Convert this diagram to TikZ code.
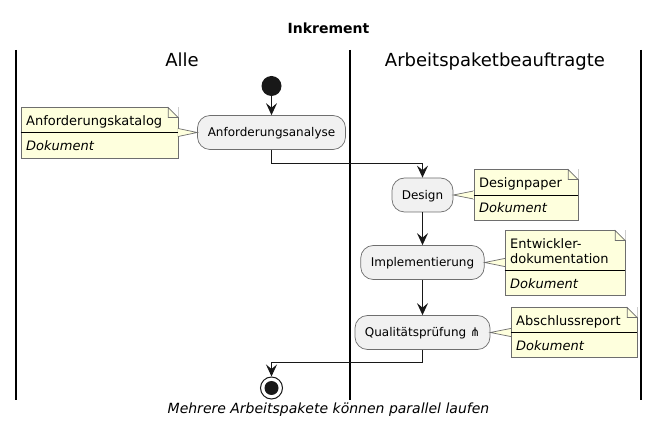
\documentclass[tikz,border=0pt]{standalone}
\usepackage{fontspec}
\setmainfont{DejaVu Sans}
\usetikzlibrary{arrows.meta,calc}
\definecolor{notefill}{HTML}{FEFFDD}
\definecolor{actfill}{HTML}{F1F1F1}
\definecolor{ink}{HTML}{181818}
\definecolor{edge}{HTML}{6E6E6E}
\tikzset{
	activity/.style={draw=edge, line width=0.7pt, fill=actfill, rounded corners=12.5pt, inner sep=0pt, minimum height=34pt, text height=11pt, text depth=2pt, font=\fontsize{12}{14}\selectfont},
	notebody/.style={draw=edge, line width=0.7pt, fill=notefill, inner sep=0pt},
	notetext/.style={inner sep=0pt, align=left, font=\fontsize{13}{15}\selectfont},
	flow/.style={draw=ink, line width=1.2pt, -{Stealth[length=12pt, width=11pt, inset=4.5pt]}},
	lane/.style={draw=black, line width=2pt},
	lanetitle/.style={inner sep=0pt, anchor=base, font=\fontsize{18}{22}\selectfont},
}
% name, x, y, width, height, divider offset, head text, activity anchor, note side
\newcommand{\notebox}[9]{
	\node[notebody, anchor=north west, minimum width=#4pt, minimum height=#5pt] (#1) at (#2, #3) {};
	\draw[draw=edge, line width=0.7pt, fill=notefill] (#8) -- ($(#8 -| #1.#9)+(0,-4)$) -- ($(#8 -| #1.#9)+(0,4)$) -- cycle;
	\draw[notefill, line width=1pt] ($(#8 -| #1.#9)+(0,-3.6)$) -- ($(#8 -| #1.#9)+(0,3.6)$);
	\fill[white] ($(#1.north east)+(-10,-0.5)$) -- ($(#1.north east)+(0.5,-0.5)$) -- ($(#1.north east)+(0.5,10)$) -- cycle;
	\draw[draw=edge, line width=0.7pt] ($(#1.north east)+(-10,0)$) -- ($(#1.north east)+(0,10)$) -- ($(#1.north east)+(-10,10)$) -- cycle;
	\draw[draw=black, line width=0.9pt] ($(#1.north west)+(0,#6)$) -- ($(#1.north east)+(0,#6)$);
	\node[notetext, anchor=base west] (#1head) at ($(#1.north west)+(5.5,#6-7)$) {#7};
	\node[notetext, anchor=base west] (#1kind) at ($(#1.north west)+(5.5,#6+18)$) {\itshape Dokument};
}

\begin{document}
\begin{tikzpicture}[x=1pt, y=-1pt]
	%%%%% START %%%%%
	\useasboundingbox (0, 0) rectangle (659, 430);
	
	\node[font=\fontsize{14}{16}\selectfont\bfseries, inner sep=0pt] (title) at (328.5, 28) {Inkrement};
	
	\draw[lane] (15.5, 50) -- (15.5, 400);
	\draw[lane] (349.5, 50) -- (349.5, 400);
	\draw[lane] (640.5, 50) -- (640.5, 400);
	
	\node[lanetitle] (alle) at (182, 67) {Alle};
	\node[lanetitle] (apb) at (495, 67) {Arbeitspaketbeauftragte};
	
	\node[circle, fill=ink, inner sep=0pt, minimum size=20pt] (start) at (271.5, 86) {};
	\node[activity, minimum width=148pt] (analyse) at (271.5, 132.5) {Anforderungsanalyse};
	\node[activity, minimum width=61pt] (design) at (422.5, 195) {Design};
	\node[activity, minimum width=123.5pt] (impl) at (422.5, 262.5) {Implementierung};
	\node[activity, minimum width=135pt] (pruef) at (422.5, 332.5) {Qualitätsprüfung ⋔};
	\node[circle, draw=ink, line width=1pt, inner sep=0pt, minimum size=22pt] (stop) at (271.5, 388) {};
	\node[circle, fill=ink, inner sep=0pt, minimum size=14pt] (stopdot) at (stop) {};
	
	\draw[flow] (start) -- (analyse);
	\draw[flow] (analyse.south) -- ++(0, 14) -| (design.north);
	\draw[flow] (design) -- (impl);
	\draw[flow] (impl) -- (pruef);
	\draw[flow] (pruef.south) -- ++(0, 12.5) -| (stop.north);
	
	\notebox{katalog}{20.5}{107.5}{157}{50.5}{25}{Anforderungskatalog}{analyse.west}{east}
	\notebox{paper}{473.5}{169.5}{104}{50.5}{25.5}{Designpaper}{design.east}{west}
	\notebox{doku}{504.5}{230.5}{120}{65}{40}{Entwickler-\\dokumentation}{impl.east}{west}
	\notebox{report}{510.5}{307.5}{126}{50}{25}{Abschlussreport}{pruef.east}{west}
	
	\node[font=\fontsize{14}{16}\selectfont\itshape, inner sep=0pt] (caption) at (328.5, 410) {Mehrere Arbeitspakete können parallel laufen};
	
	%%%%% END %%%%%
\end{tikzpicture}
\end{document}
